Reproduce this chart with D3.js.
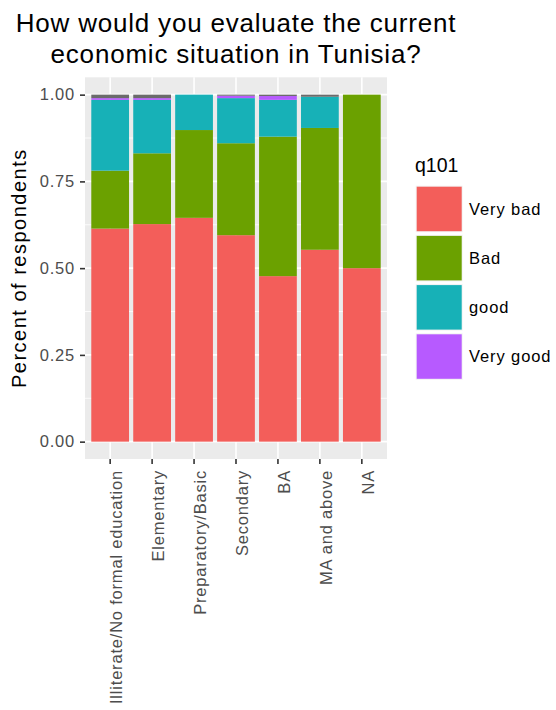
<!DOCTYPE html>
<html><head><meta charset="utf-8">
<script src="https://cdn.jsdelivr.net/npm/d3@7"></script>
<style>body{margin:0;background:#fff;} text{font-family:"Liberation Sans",Arial,sans-serif;}</style>
</head><body>
<svg id="chart" width="556" height="710"></svg>
<script>
const categories = ["Illiterate/No formal education","Elementary","Preparatory/Basic","Secondary","BA","MA and above","NA"];
const veryBad  = [0.614,0.627,0.645,0.595,0.477,0.553,0.500];
const bad      = [0.167,0.204,0.253,0.265,0.402,0.351,0.500];
const good     = [0.204,0.154,0.102,0.130,0.106,0.090,0.000];
const veryGood = [0.005,0.005,0.000,0.007,0.011,0.000,0.000];
const missing  = [0.010,0.010,0.000,0.003,0.004,0.006,0.000];
const seriesKeys = ["Very bad","Bad","good","Very good","NA"];
const legendKeys = ["Very bad","Bad","good","Very good"];
const colors = ["#F35E5A","#6BA100","#17B1B7","#B75AFF","#6B6B6B"];
const yTicks = [0,0.25,0.5,0.75,1];
const yMinor = [0.125,0.375,0.625,0.875];
const title = ["How would you evaluate the current","economic situation in Tunisia?"];

const rows = categories.map((c,i)=>({cat:c,"Very bad":veryBad[i],"Bad":bad[i],"good":good[i],"Very good":veryGood[i],"NA":missing[i]}));
const stacked = d3.stack().keys(seriesKeys)(rows);

const svg = d3.select("#chart");
const P = {l:85, r:387, t:77.3, b:459};
const x = d3.scaleBand().domain(categories).range([P.l,P.r]).paddingInner(0.1).paddingOuter(0.15);
const y = d3.scaleLinear().domain([-0.05,1.05]).range([P.b,P.t]);
const color = d3.scaleOrdinal().domain(seriesKeys).range(colors);

// panel
svg.append("rect").attr("x",P.l).attr("y",P.t).attr("width",P.r-P.l).attr("height",P.b-P.t).attr("fill","#EBEBEB");
svg.append("g").selectAll("line").data(yMinor).join("line")
  .attr("x1",P.l).attr("x2",P.r).attr("y1",d=>y(d)).attr("y2",d=>y(d)).attr("stroke","#fff").attr("stroke-width",0.8);
svg.append("g").selectAll("line").data(yTicks).join("line")
  .attr("x1",P.l).attr("x2",P.r).attr("y1",d=>y(d)).attr("y2",d=>y(d)).attr("stroke","#fff").attr("stroke-width",1.6);
svg.append("g").selectAll("line").data(categories).join("line")
  .attr("y1",P.t).attr("y2",P.b).attr("x1",d=>x(d)+x.bandwidth()/2).attr("x2",d=>x(d)+x.bandwidth()/2).attr("stroke","#fff").attr("stroke-width",1.6);

// bars
svg.append("g").selectAll("g").data(stacked).join("g").attr("fill",d=>color(d.key))
  .selectAll("rect").data(d=>d).join("rect")
  .attr("x",d=>x(d.data.cat)).attr("width",x.bandwidth())
  .attr("y",d=>y(d[1])).attr("height",d=>Math.max(0,y(d[0])-y(d[1])));

// y axis
const yAxis = d3.axisLeft(y).tickValues(yTicks).tickFormat(d3.format(".2f")).tickSize(5).tickPadding(5);
const ya = svg.append("g").attr("transform",`translate(${P.l},0)`).call(yAxis);
ya.select(".domain").remove();
ya.selectAll(".tick line").attr("stroke","#333").attr("stroke-width",1.6);
ya.selectAll(".tick text").attr("fill","#4D4D4D").style("font-size","16.5px").style("letter-spacing","0.8px")
  .style("font-family","'Liberation Sans',Arial,sans-serif");

// x axis
const xAxis = d3.axisBottom(x).tickSize(5).tickPadding(6);
const xa = svg.append("g").attr("transform",`translate(0,${P.b})`).call(xAxis);
xa.select(".domain").remove();
xa.selectAll(".tick line").attr("stroke","#333").attr("stroke-width",1.6);
xa.selectAll(".tick text").attr("fill","#4D4D4D").style("font-size","16.5px").style("letter-spacing","0.8px")
  .style("font-family","'Liberation Sans',Arial,sans-serif")
  .attr("text-anchor","end").attr("transform","rotate(-90)")
  .attr("x",-11).attr("y",0).attr("dy","0.72em");

// y title
svg.append("text").attr("transform",`translate(26,${(P.t+P.b)/2}) rotate(-90)`)
  .attr("text-anchor","middle").style("font-size","20px").style("letter-spacing","1.5px").attr("fill","#000")
  .text("Percent of respondents");

// title
svg.append("g").selectAll("text").data(title).join("text")
  .attr("x",(P.l+P.r)/2).attr("y",(d,i)=>32+i*31).attr("text-anchor","middle")
  .style("font-size","26px").style("letter-spacing","0.8px").attr("fill","#000").text(d=>d);

// legend
const lg = svg.append("g");
lg.append("text").attr("x",415).attr("y",172).style("font-size","19.5px").attr("fill","#000").text("q101");
const step = 49.2;
legendKeys.forEach((k,i)=>{
  const top = 185.7 + i*step;
  lg.append("rect").attr("x",415.7).attr("y",top).attr("width",47).attr("height",46.5).attr("fill","#F2F2F2");
  lg.append("rect").attr("x",416.7).attr("y",top+1).attr("width",45).attr("height",44.5).attr("fill",color(k));
  lg.append("text").attr("x",469).attr("y",top+23.25).attr("dy","0.35em").style("font-size","16.5px")
    .style("letter-spacing","0.9px").attr("fill","#000").text(k);
});
</script>
</body></html>
